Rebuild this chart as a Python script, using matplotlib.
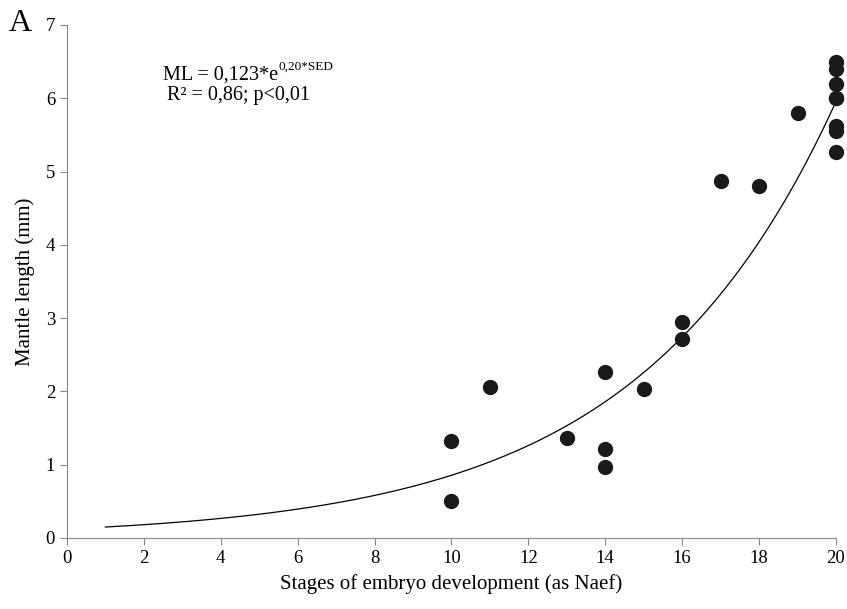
import numpy as np
import matplotlib
matplotlib.use('Agg')
from matplotlib import pyplot as plt

plt.rcParams['font.family'] = 'Liberation Serif'

# stages of embryo development and mantle length (mm)
stage = [10, 10, 11, 13, 14, 14, 14, 15, 16, 16, 17, 18, 19,
         20, 20, 20, 20, 20, 20, 20, 20]
mantle = [1.32, 0.50, 2.06, 1.36, 2.27, 1.22, 0.97, 2.03, 2.95, 2.72, 4.87, 4.80, 5.80,
          6.50, 6.40, 6.20, 6.00, 6.00, 5.62, 5.56, 5.27]

# exponential fit ML = a*e^(b*SED)
a = 0.123
b = 0.194
xfit = np.linspace(1, 20, 200)
yfit = a * np.exp(b * xfit)

fig = plt.figure(figsize=(8.47, 6.09), dpi=100)
ax = fig.add_axes([0.079, 0.1166, 0.908, 0.8424])

ax.plot(xfit, yfit, color='black', lw=0.9)
ax.scatter(stage, mantle, s=100, color='#1a1a1a', zorder=3, clip_on=False)

ax.set_xlim(0, 20)
ax.set_ylim(0, 7)
ax.set_xticks(range(0, 21, 2))
ax.set_yticks(range(0, 8))

for s in ['top', 'right']:
    ax.spines[s].set_visible(False)
for s in ['left', 'bottom']:
    ax.spines[s].set_color('#888888')
ax.tick_params(colors='#888888', labelcolor='black', labelsize=13.5, length=5)

ax.set_xlabel('Stages of embryo development (as Naef)', fontsize=15, labelpad=5)
ax.set_ylabel('Mantle length (mm)', fontsize=15, labelpad=8)

# equation: main text and superscript drawn side by side
ax.text(0.274, 0.902, 'ML = 0,123*e', transform=ax.transAxes,
        ha='right', va='center', fontsize=14.5)
ax.text(0.2745, 0.918, '0,20*SED', transform=ax.transAxes,
        ha='left', va='center', fontsize=9.5)
ax.text(0.2225, 0.862, 'R² = 0,86; p<0,01', transform=ax.transAxes,
        ha='center', va='center', fontsize=14.5)

fig.text(0.010, 0.962, 'A', fontsize=23, ha='left', va='center')
fig.text(0.012, 0.002, 'B', fontsize=22, ha='left', va='top', color='#888888')

fig.savefig('out.png', dpi=100)
